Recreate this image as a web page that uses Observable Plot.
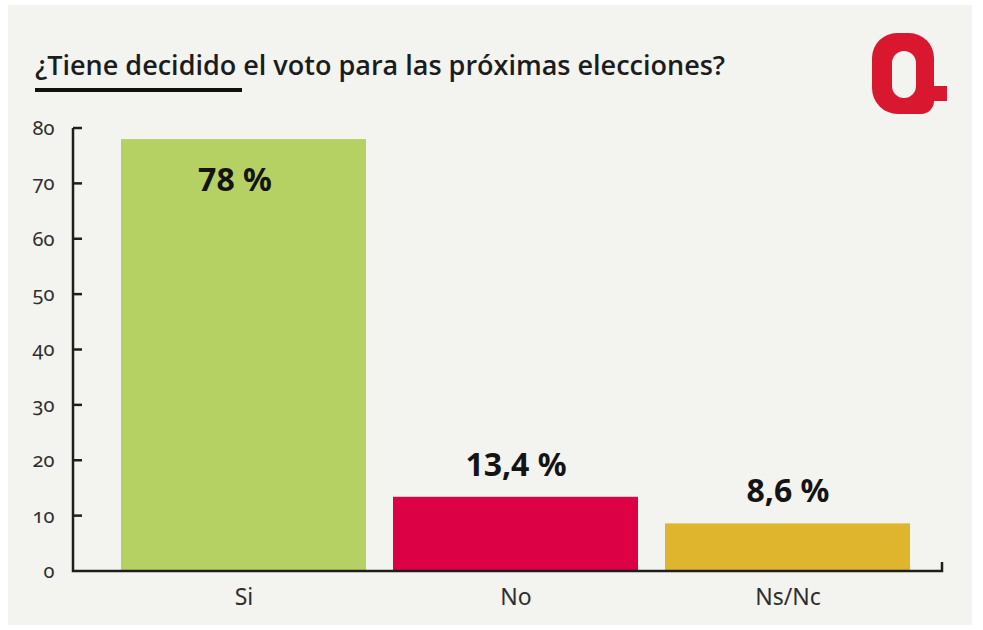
<!DOCTYPE html>
<html>
<head>
<meta charset="utf-8">
<script src="https://cdn.jsdelivr.net/npm/d3@7"></script>
<script src="https://cdn.jsdelivr.net/npm/@observablehq/plot@0.6"></script>
<style>
  html, body { margin: 0; padding: 0; background: #ffffff; }
  #wrap { position: relative; width: 983px; height: 630px; overflow: hidden; }
  #panel { position: absolute; left: 8px; top: 5px; width: 964px; height: 620px; background: #f3f3ef; }
  #title { position: absolute; left: 35px; top: 51px; margin: 0; line-height: 1; font-family: "Open Sans", sans-serif; font-weight: 600; font-size: 27px; color: #1c1c1c; white-space: nowrap; }
  #rule { position: absolute; left: 35px; top: 88px; width: 207px; height: 4px; background: #111; }
  #logo { position: absolute; left: 0; top: 0; }
  #chart { position: absolute; left: 0; top: 0; }
</style>
</head>
<body>
<div id="wrap">
  <div id="panel"></div>
  <h2 id="title">¿Tiene decidido el voto para las próximas elecciones?</h2>
  <div id="rule"></div>
  <svg id="logo" width="983" height="630">
    <path fill="#d9172f" fill-rule="evenodd" d="M898,33 h11 a25,25 0 0 1 25,25 v28 h13 v15 h-13 a13,13 0 0 1 -13,13 h-23 a26,26 0 0 1 -26,-26 v-30 a25,25 0 0 1 25,-25 z M904,51 a12,12 0 0 0 -12,12 v23 a12,12 0 0 0 12,12 h0 a12,12 0 0 0 12,-12 v-23 a12,12 0 0 0 -12,-12 z"/>
  </svg>
  <div id="chart"></div>
</div>
<script>
const categories = ["Si", "No", "Ns/Nc"];
const values = [78, 13.4, 8.6];
const colors = ["#b6d163", "#dc0045", "#dfb52e"];
const yTicks = [0, 10, 20, 30, 40, 50, 60, 70, 80];

const data = categories.map((c, i) => ({category: c, value: values[i]}));
const fmt = v => String(v).replace(".", ",") + " %";

const axisLines = (index, scales, values, dims) => {
  const g = d3.create("svg:g").attr("stroke", "#1e1e1e").attr("stroke-width", 2.5).attr("fill", "none");
  const x0 = dims.marginLeft;
  const x1 = dims.width - dims.marginRight;
  const yb = scales.y(0);
  const yt = scales.y(80);
  g.append("path").attr("d", `M${x0},${yt}V${yb}H${x1}V${yb - 9}`).attr("stroke-linejoin", "miter");
  for (const t of yTicks) {
    if (t === 0) continue;
    g.append("line").attr("x1", x0).attr("x2", x0 + 9).attr("y1", scales.y(t)).attr("y2", scales.y(t));
  }
  return g.node();
};

const chart = Plot.plot({
  width: 983,
  height: 630,
  marginTop: 128,
  marginBottom: 59,
  marginLeft: 73,
  marginRight: 41,
  style: {background: "transparent", fontFamily: "'Noto Sans', sans-serif"},
  x: {domain: categories, padding: 0.1, insetLeft: 19, insetRight: 4, label: null},
  y: {domain: [0, 80], label: null},
  color: {domain: categories, range: colors},
  marks: [
    Plot.barY(data, {x: "category", y: "value", fill: "category"}),
    axisLines,
    Plot.axisY({ticks: yTicks, tickSize: 0, tickPadding: 19, fontSize: 20, fill: "#2e2e2e", label: null, tickFormat: d => String(d)}),
    Plot.axisX({tickSize: 0, tickPadding: 17, fontSize: 23, fill: "#2e2e2e", label: null}),
    Plot.text(data.filter(d => d.value > 50), {x: "category", y: "value", text: d => fmt(d.value), dy: 41, dx: -9, fontSize: 32, fontWeight: "bold", fill: "#141414"}),
    Plot.text(data.filter(d => d.value <= 50), {x: "category", y: "value", text: d => fmt(d.value), dy: -32, fontSize: 32, fontWeight: "bold", fill: "#141414"})
  ]
});
d3.select(chart).selectAll("g[aria-label='y-axis tick label'] text").style("font-variant-numeric", "oldstyle-nums");
document.getElementById("chart").appendChild(chart);
</script>
</body>
</html>
